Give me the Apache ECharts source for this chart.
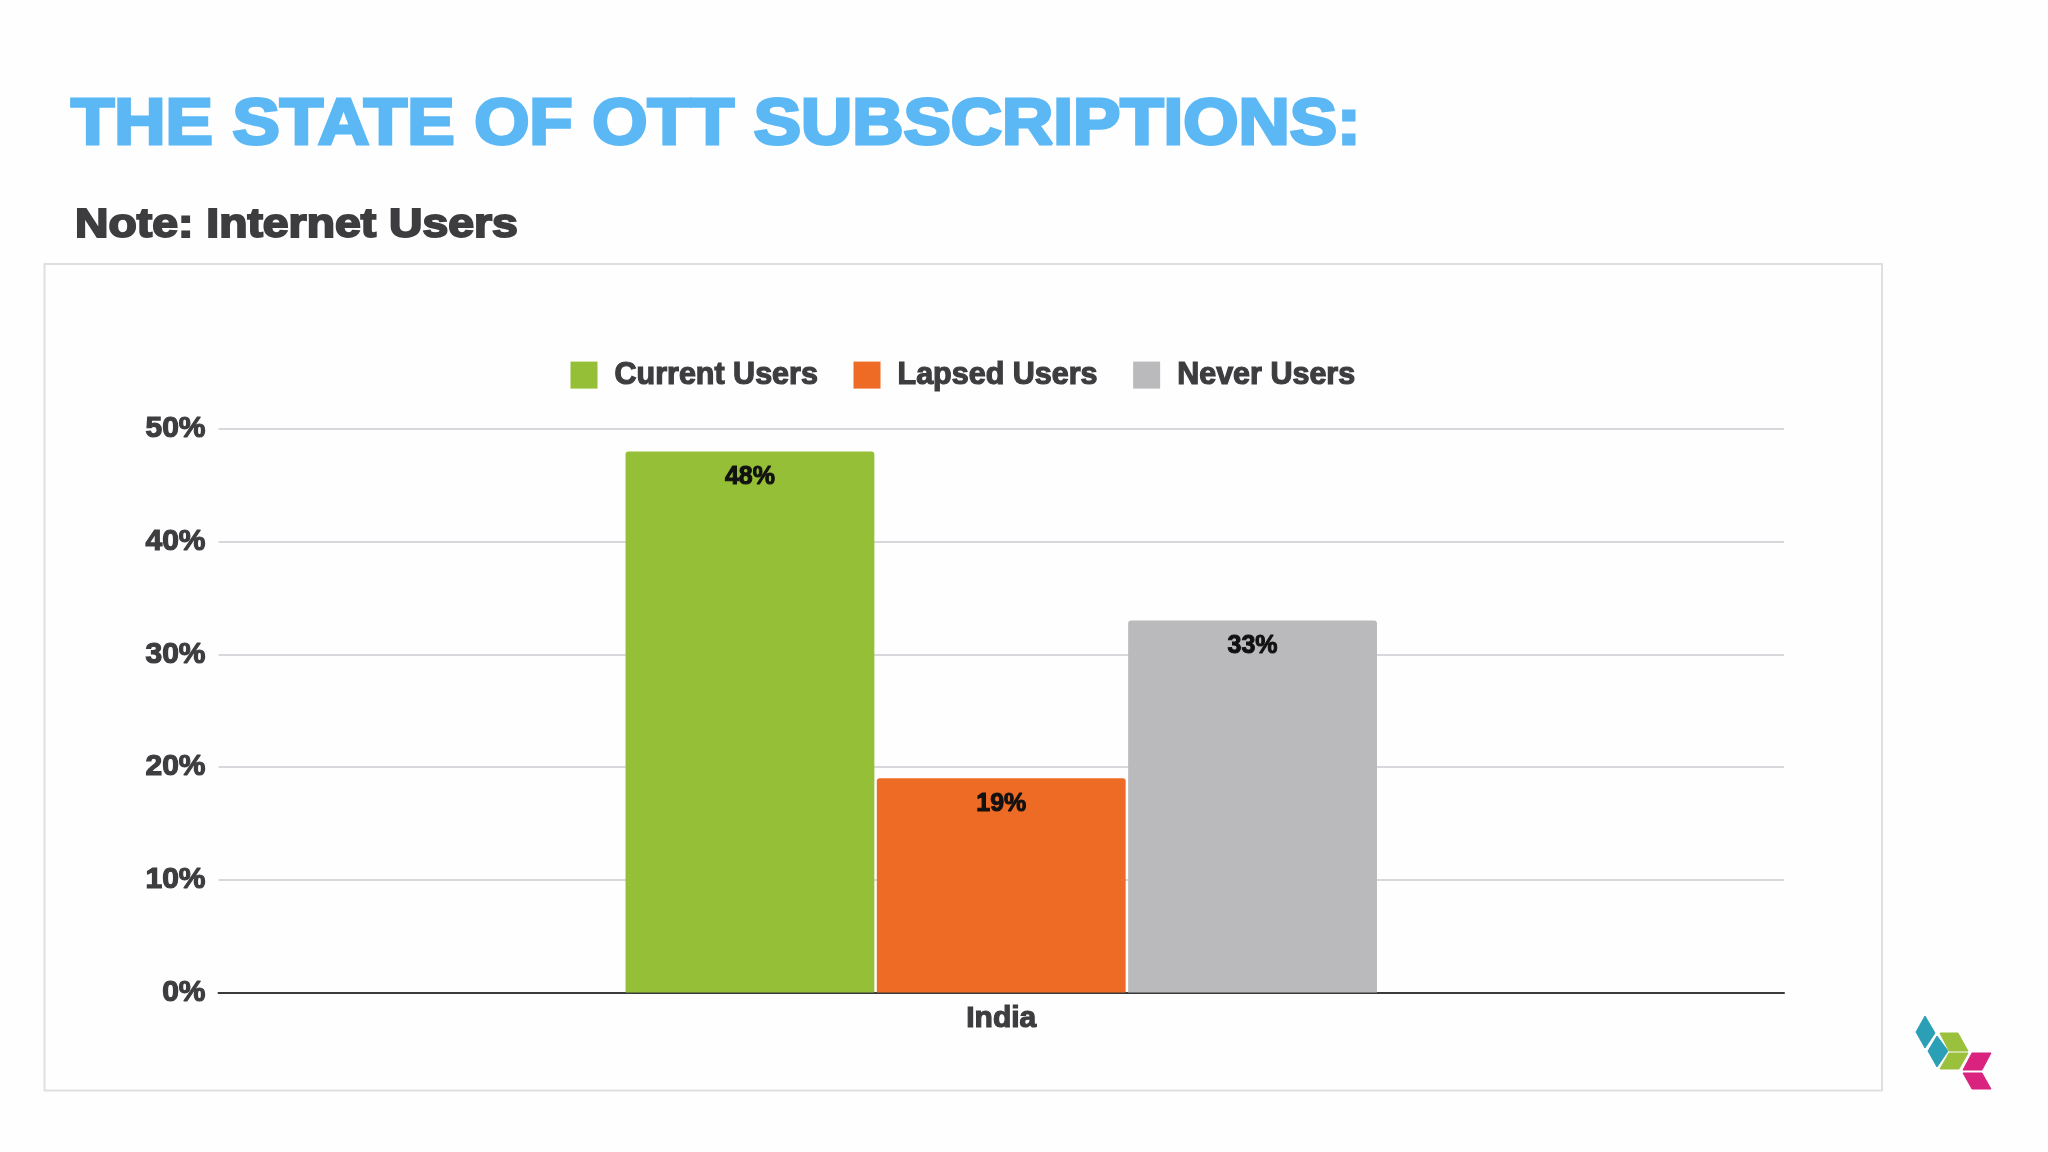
<!DOCTYPE html>
<html>
<head>
<meta charset="utf-8">
<title>The State of OTT Subscriptions</title>
<style>
  html, body { margin: 0; padding: 0; background: #fefefe; }
  #chart { width: 2048px; height: 1152px; }
</style>
<script src="https://cdn.jsdelivr.net/npm/echarts@6/dist/echarts.min.js"></script>
</head>
<body>
<div id="chart"></div>
<script>
const categories = ["India"];
const currentUsers = [48];
const lapsedUsers = [19];
const neverUsers = [33];
const yTicks = [0, 10, 20, 30, 40, 50];

const fontName = '"Liberation Sans", Arial, sans-serif';
const dark = "#3d3d40";

const makeSeries = (name, data, color) => ({
  name,
  type: "bar",
  data,
  barGap: "1%",
  barCategoryGap: "52%",
  itemStyle: { color, borderRadius: [3, 3, 0, 0] },
  label: {
    show: true,
    position: "insideTop",
    distance: 13,
    formatter: "{c}%",
    fontFamily: fontName,
    fontWeight: "bold",
    fontSize: 25,
    color: "#111",
    textBorderColor: "#111",
    textBorderWidth: 1,
  },
});

// logo pieces, offsets inside the corner group
const logoPieces = [
  { color: "#2b9fb5", points: [[45, 36], [55, 53], [45, 68], [36, 52]] },
  { color: "#2b9fb5", points: [[57, 56], [68, 71], [57, 87], [48, 71]] },
  { color: "#9bc13c", points: [[60, 53], [78, 53], [88, 71], [69, 71]] },
  { color: "#9bc13c", points: [[69, 73], [88, 73], [79, 89], [60, 89]] },
  { color: "#d9237f", points: [[92, 73], [111, 73], [102, 90], [83, 90]] },
  { color: "#d9237f", points: [[83, 93], [102, 93], [111, 109], [92, 109]] },
];

const chart = echarts.init(document.getElementById("chart"));

chart.setOption({
  backgroundColor: "#fefefe",
  animation: false,
  textStyle: { fontFamily: fontName },
  legend: {
    top: 359,
    left: 570.5,
    padding: 0,
    itemWidth: 27,
    itemHeight: 27,
    itemGap: 35,
    icon: "rect",
    textStyle: {
      fontFamily: fontName,
      fontWeight: "bold",
      fontSize: 30.5,
      color: dark,
      textBorderColor: dark,
      textBorderWidth: 1.2,
      padding: [0, 0, 0, 12],
    },
  },
  grid: { left: 218.5, right: 264, top: 429, height: 563.5 },
  xAxis: {
    type: "category",
    data: categories,
    axisTick: { show: false },
    axisLine: { lineStyle: { color: "#3a3a3c", width: 2 } },
    axisLabel: {
      fontFamily: fontName,
      fontWeight: "bold",
      fontSize: 30,
      color: dark,
      margin: 11,
      textBorderColor: dark,
      textBorderWidth: 1.2,
    },
  },
  yAxis: {
    type: "value",
    min: yTicks[0],
    max: yTicks[yTicks.length - 1],
    interval: 10,
    axisLine: { show: false },
    axisTick: { show: false },
    splitLine: { lineStyle: { color: "#d9d6dc", width: 2 } },
    axisLabel: {
      formatter: "{value}%",
      fontFamily: fontName,
      fontWeight: "bold",
      fontSize: 30,
      color: dark,
      margin: 13,
      textBorderColor: dark,
      textBorderWidth: 1.2,
    },
  },
  series: [
    makeSeries("Current Users", currentUsers, "#95bf36"),
    makeSeries("Lapsed Users", lapsedUsers, "#ee6b25"),
    makeSeries("Never Users", neverUsers, "#bab9bb"),
  ],
  graphic: [
    {
      type: "rect",
      silent: true,
      z: -1,
      shape: { x: 44.5, y: 264, width: 1837.5, height: 826.5 },
      style: { fill: "#fefefe", stroke: "#dfdfe1", lineWidth: 2 },
    },
    {
      // the heading is wider than the installed bold face, so stretch it
      type: "text",
      silent: true,
      x: 71,
      y: 126,
      scaleX: 1.108,
      style: {
        text: "THE STATE OF OTT SUBSCRIPTIONS:",
        font: 'bold 64px "Liberation Sans", Arial, sans-serif',
        fill: "#5bb8f5",
        stroke: "#5bb8f5",
        lineWidth: 3,
        textVerticalAlign: "middle",
      },
    },
    {
      type: "text",
      silent: true,
      x: 75,
      y: 226,
      scaleX: 1.13,
      style: {
        text: "Note: Internet Users",
        font: 'bold 41px "Liberation Sans", Arial, sans-serif',
        fill: dark,
        stroke: dark,
        lineWidth: 2,
        textVerticalAlign: "middle",
      },
    },
    {
      type: "group",
      x: 1880,
      y: 980,
      silent: true,
      children: logoPieces.map((p) => ({
        type: "polygon",
        shape: { points: p.points },
        style: { fill: p.color, stroke: p.color, lineWidth: 1, lineJoin: "round" },
      })),
    },
  ],
});
</script>
</body>
</html>
